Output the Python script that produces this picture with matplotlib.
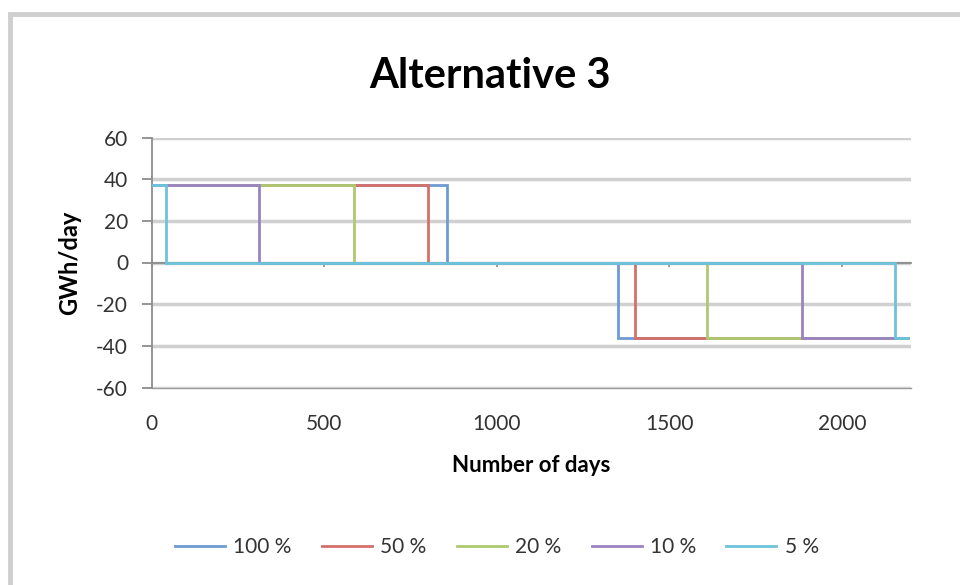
import matplotlib
matplotlib.use("Agg")
import matplotlib.pyplot as plt
from matplotlib.patches import Rectangle

# Storage operation per case: charging until a given day, idle, then discharging
series_labels = ["100 %", "50 %", "20 %", "10 %", "5 %"]
charge_end_day = [855, 800, 585, 310, 40]
discharge_start_day = [1350, 1400, 1610, 1885, 2155]
charge_rate = 37      # GWh/day
discharge_rate = -36  # GWh/day
last_day = 2190

series_colors = ["#6f9bd2", "#d46f6b", "#afc970", "#9a84bf", "#6cc3da"]

x_ticks = [0, 500, 1000, 1500, 2000]
y_ticks = [-60, -40, -20, 0, 20, 40, 60]

plt.rcParams["font.family"] = ["Lato", "DejaVu Sans"]
plt.rcParams["axes.unicode_minus"] = False

fig = plt.figure(figsize=(9.6, 5.85), dpi=100)
fig.patch.set_facecolor("white")

# chart-area frame
fig.patches.append(Rectangle((10 / 960, -0.2), 1.2, 1.2 - 14 / 585,
                             transform=fig.transFigure, fill=False,
                             edgecolor="#cfcfcf", linewidth=3.5, zorder=0))

ax = fig.add_axes([151.7 / 960, 1 - 387.5 / 585, (911 - 151.7) / 960, 250 / 585])

for lab, ce, ds, col in zip(series_labels, charge_end_day, discharge_start_day, series_colors):
    xs = [0, ce, ce, ds, ds, last_day]
    ys = [charge_rate, charge_rate, 0, 0, discharge_rate, discharge_rate]
    ax.plot(xs, ys, color=col, linewidth=2.0, label=lab, solid_joinstyle="miter", zorder=3)

ax.set_xlim(0, 2200)
ax.set_ylim(-60, 60)
ax.set_yticks(y_ticks)
ax.set_xticks(x_ticks)

ax.grid(axis="y", color="#d0d0d0", linewidth=2.5, zorder=0)
ax.set_axisbelow(True)

for s in ["top", "right"]:
    ax.spines[s].set_visible(False)
ax.spines["left"].set_color("#8c8c8c")
ax.spines["left"].set_linewidth(1.3)
ax.spines["bottom"].set_position(("data", 0))
ax.spines["bottom"].set_color("#8c8c8c")
ax.spines["bottom"].set_linewidth(1.3)
ax.spines["bottom"].set_zorder(2)

ax.tick_params(axis="y", direction="out", length=7, width=1.3, color="#8c8c8c",
               labelsize=15, labelcolor="#333333", pad=10)
ax.tick_params(axis="x", direction="out", length=3, width=1.3, color="#8c8c8c",
               labelbottom=False)

# tick labels along the lower edge of the plot
sec = ax.secondary_xaxis("bottom")
sec.set_xticks(x_ticks)
sec.tick_params(length=0, labelsize=15, labelcolor="#333333", pad=19)
sec.spines["bottom"].set_color("#9a9a9a")
sec.spines["bottom"].set_linewidth(1.0)
sec.set_xlabel("Number of days", fontsize=16, fontweight="bold", labelpad=15)

ax.set_ylabel("GWh/day", fontsize=17, fontweight="bold", labelpad=11)

fig.text(490 / 960, 1 - 76 / 585, "Alternative 3", ha="center", va="center",
         fontsize=30, fontweight="bold", color="black")

handles, labels = ax.get_legend_handles_labels()
fig.legend(handles, labels, loc="center", bbox_to_anchor=(497 / 960, 1 - 547 / 585),
           ncol=5, frameon=False, fontsize=15, handlelength=2.4, columnspacing=1.45,
           handletextpad=0.4, labelcolor="#333333")

fig.savefig("out.png", dpi=100, facecolor="white")
